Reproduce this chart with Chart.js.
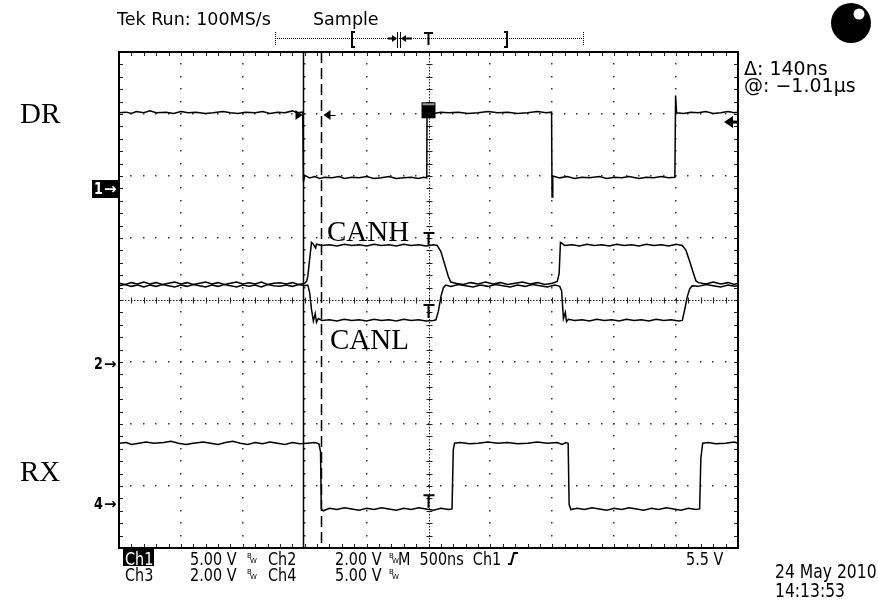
<!DOCTYPE html>
<html>
<head>
<meta charset="utf-8">
<script src="https://cdn.jsdelivr.net/npm/chart.js@4.4.1/dist/chart.umd.min.js"></script>
<style>
html, body { margin: 0; padding: 0; background: #fff; }
#wrap { width: 878px; height: 601px; position: relative; }
</style>
</head>
<body>
<div id="wrap"><canvas id="scope" width="878" height="601"></canvas></div>
<script>
// Time axis is in ns (500 ns/div, 10 div), level axis in screen divisions (8 div)
const timeMin = -2500, timeMax = 2500, timePerDiv = 500;
const levelMin = -4, levelMax = 4;

// Ch1 - DR (driver input)
const drTime = [-2500,-2440,-2400,-2360,-2300,-2250,-2200,-2120,-2060,-2000,-1940,-1880,-1800,-1740,-1660,-1600,-1540,-1480,-1400,-1340,-1280,-1220,-1160,-1100,-1060,-1016,
  -1010,-1000,-960,-920,-880,-840,-780,-720,-680,-620,-560,-500,-440,-380,-320,-260,-200,-140,-80,-40,-14,
  -12,40,100,160,240,320,400,480,560,640,720,800,880,950,994,
  998,1004,1060,1120,1180,1240,1300,1380,1440,1500,1560,1620,1700,1760,1820,1880,1940,1990,
  1996,2004,2060,2120,2180,2240,2300,2360,2420,2470,2500];
const drLevel = [3.02,3.03,3.01,3.04,3.02,3.05,3.02,3.03,3.01,3.04,3.02,3.03,3.01,3.02,3.04,3.02,3.01,3.03,3.02,3.04,3.01,3.03,3.02,3.05,3.02,3.03,
  1.90,2.01,1.97,1.99,1.96,1.98,1.97,1.99,1.96,1.98,1.97,1.99,1.96,1.97,1.99,1.96,1.97,1.98,1.96,1.98,1.97,
  3.02,3.01,3.03,3.02,3.03,3.01,3.02,3.04,3.02,3.03,3.01,3.02,3.04,3.02,3.03,
  1.66,2.00,1.97,1.99,1.96,1.98,1.97,1.99,1.96,1.98,1.97,1.99,1.96,1.98,1.97,1.99,1.97,1.98,
  3.30,3.02,3.01,3.03,3.02,3.04,3.01,3.02,3.04,3.02,3.03];

// Ch2 - CANH
const canhTime = [-2500,-2450,-2400,-2350,-2300,-2250,-2200,-2150,-2100,-2050,-2000,-1950,-1900,-1850,-1800,-1750,-1700,-1650,-1600,-1550,-1500,-1450,-1400,-1350,-1300,-1250,-1200,-1150,-1100,-1050,-1000,
  -985,-975,-960,-945,-930,-912,-905,-860,-800,-740,-680,-620,-560,-500,-440,-380,-320,-260,-200,-140,-80,-20,40,70,
  100,130,160,180,220,280,340,400,460,520,580,640,700,760,820,880,940,1000,1040,
  1055,1066,1080,1100,1160,1220,1280,1340,1400,1460,1520,1580,1640,1700,1760,1820,1880,1940,2000,2050,
  2080,2110,2140,2160,2180,2240,2300,2360,2420,2470,2500];
const canhLevel = [0.27,0.25,0.28,0.26,0.29,0.26,0.28,0.25,0.27,0.29,0.26,0.28,0.25,0.27,0.29,0.26,0.28,0.25,0.27,0.29,0.26,0.28,0.26,0.29,0.25,0.27,0.28,0.26,0.28,0.25,0.27,
  0.30,0.38,0.66,0.93,0.90,0.84,0.90,0.88,0.89,0.87,0.90,0.88,0.89,0.87,0.90,0.88,0.89,0.87,0.90,0.88,0.89,0.87,0.89,0.88,
  0.78,0.58,0.38,0.29,0.27,0.25,0.28,0.26,0.29,0.26,0.28,0.25,0.27,0.29,0.26,0.28,0.25,0.27,0.30,
  0.42,0.93,0.91,0.88,0.89,0.87,0.90,0.88,0.89,0.87,0.90,0.88,0.89,0.87,0.90,0.88,0.89,0.87,0.90,0.88,
  0.80,0.62,0.43,0.31,0.28,0.26,0.29,0.26,0.28,0.25,0.27];

// Ch3 - CANL
const canlTime = [-2500,-2450,-2400,-2350,-2300,-2250,-2200,-2150,-2100,-2050,-2000,-1950,-1900,-1850,-1800,-1750,-1700,-1650,-1600,-1550,-1500,-1450,-1400,-1350,-1300,-1250,-1200,-1150,-1100,-1050,-1000,
  -975,-960,-945,-930,-915,-905,-890,-860,-800,-740,-680,-620,-560,-500,-440,-380,-320,-260,-200,-140,-80,-20,40,60,
  80,100,120,140,180,240,300,360,420,480,540,600,660,720,780,840,900,960,1020,1060,
  1075,1090,1105,1115,1130,1180,1240,1300,1360,1420,1480,1540,1600,1660,1720,1780,1840,1900,1960,2020,2050,
  2070,2090,2110,2130,2180,2240,2300,2360,2420,2470,2500];
const canlLevel = [0.23,0.25,0.22,0.24,0.21,0.24,0.22,0.25,0.23,0.21,0.24,0.22,0.25,0.23,0.21,0.24,0.22,0.25,0.23,0.21,0.24,0.22,0.24,0.21,0.25,0.23,0.22,0.24,0.22,0.25,0.23,
  0.24,0.12,-0.15,-0.34,-0.22,-0.36,-0.30,-0.33,-0.32,-0.34,-0.31,-0.33,-0.32,-0.34,-0.31,-0.33,-0.32,-0.34,-0.31,-0.33,-0.32,-0.34,-0.33,-0.32,
  -0.18,0.05,0.20,0.24,0.22,0.25,0.23,0.21,0.24,0.22,0.25,0.23,0.21,0.24,0.22,0.25,0.23,0.21,0.24,0.22,
  0.15,-0.30,-0.20,-0.35,-0.31,-0.33,-0.32,-0.34,-0.31,-0.33,-0.32,-0.34,-0.31,-0.33,-0.32,-0.34,-0.31,-0.33,-0.32,-0.34,-0.33,
  -0.15,0.05,0.18,0.23,0.22,0.25,0.23,0.21,0.24,0.22,0.23];

// Ch4 - RX (receiver output)
const rxTime = [-2500,-2440,-2400,-2340,-2280,-2220,-2140,-2080,-2020,-1960,-1900,-1820,-1760,-1700,-1640,-1580,-1520,-1460,-1400,-1340,-1280,-1220,-1160,-1100,-1040,-980,-920,-885,
  -872,-866,-850,-800,-740,-680,-620,-560,-500,-440,-380,-320,-260,-200,-140,-80,-20,40,100,160,190,
  200,210,260,330,400,480,560,640,720,800,880,960,1040,1080,1110,1128,
  1136,1150,1200,1260,1320,1380,1440,1500,1560,1620,1680,1740,1800,1860,1920,1980,2040,2100,2160,2190,
  2200,2215,2260,2320,2400,2470,2500];
const rxLevel = [-2.31,-2.30,-2.33,-2.31,-2.29,-2.31,-2.30,-2.28,-2.31,-2.33,-2.31,-2.29,-2.31,-2.33,-2.30,-2.28,-2.31,-2.33,-2.30,-2.32,-2.29,-2.31,-2.33,-2.30,-2.32,-2.31,-2.30,-2.32,
  -2.45,-3.37,-3.40,-3.36,-3.38,-3.35,-3.37,-3.39,-3.36,-3.38,-3.35,-3.37,-3.39,-3.36,-3.38,-3.35,-3.37,-3.39,-3.36,-3.38,-3.37,
  -2.42,-2.31,-2.30,-2.32,-2.31,-2.29,-2.31,-2.30,-2.32,-2.31,-2.29,-2.31,-2.30,-2.33,-2.30,-2.31,
  -3.30,-3.38,-3.36,-3.38,-3.35,-3.37,-3.39,-3.36,-3.38,-3.35,-3.37,-3.39,-3.36,-3.38,-3.35,-3.37,-3.39,-3.36,-3.38,-3.37,
  -2.55,-2.31,-2.30,-2.32,-2.31,-2.29,-2.31];

// Cursors, channel ground markers and trigger marks (ns / divisions)
const cursorA = -1010, cursorB = -870;
const chMarkers = [['1', 1.79, true], ['2', -1.03, false], ['4', -3.30, false]];
const triggerLevel = 2.87;
const triggerTime = 0, triggerSquareLevel = 3.06;
const tMarks = [[1.08, 0.89], [-0.08, -0.29], [-3.15, -3.35]];

const pairs = (t, v) => t.map((x, i) => ({x: x, y: v[i]}));

const narrowText = (ctx, txt, x, y, sx) => {
    /*
        Draws horizontally squeezed text, the scope readout font is condensed
    */
    ctx.save();
    ctx.translate(x, y);
    ctx.scale(sx, 1);
    ctx.fillText(txt, 0, 0);
    ctx.restore();
}

const scopeGrid = {
    id: 'scopeGrid',
    beforeDatasetsDraw(chart) {
        /*
            Draws the dotted graticule, the center cross and the border ticks
        */
        const {ctx, chartArea: a, scales: {x, y}} = chart;
        ctx.save();
        ctx.fillStyle = '#333';
        const nDivX = (timeMax - timeMin) / timePerDiv;
        const nDivY = levelMax - levelMin;
        //dots along the vertical grid lines
        for (let i = 1; i < nDivX; i++) {
            if (i === nDivX / 2) continue;
            const px = Math.round(x.getPixelForValue(timeMin + i * timePerDiv));
            for (let j = 0; j <= nDivY * 5; j++) {
                const py = Math.round(y.getPixelForValue(levelMin + j / 5));
                ctx.fillRect(px - 1, py - 1, 1.5, 1.5);
            }
        }
        //dots along the horizontal grid lines
        for (let j = 1; j < nDivY; j++) {
            if (j === nDivY / 2) continue;
            const py = Math.round(y.getPixelForValue(levelMin + j));
            for (let i = 0; i <= nDivX * 5; i++) {
                const px = Math.round(x.getPixelForValue(timeMin + i * timePerDiv / 5));
                ctx.fillRect(px - 1, py - 1, 1.5, 1.5);
            }
        }
        //center cross
        const cx = Math.round(x.getPixelForValue(0)) + 0.5;
        const cy = Math.round(y.getPixelForValue(0)) + 0.5;
        ctx.strokeStyle = '#222';
        ctx.lineWidth = 1;
        ctx.setLineDash([1.5, 1.5]);
        ctx.beginPath();
        ctx.moveTo(cx, a.top); ctx.lineTo(cx, a.bottom);
        ctx.moveTo(a.left, cy); ctx.lineTo(a.right, cy);
        ctx.stroke();
        ctx.setLineDash([]);
        ctx.beginPath();
        for (let j = 0; j <= nDivY * 5; j++) {
            const py = Math.round(y.getPixelForValue(levelMin + j / 5)) + 0.5;
            ctx.moveTo(cx - 3, py); ctx.lineTo(cx + 3, py);
            //border ticks left and right
            ctx.moveTo(a.left, py); ctx.lineTo(a.left + 4, py);
            ctx.moveTo(a.right - 4, py); ctx.lineTo(a.right, py);
        }
        for (let i = 0; i <= nDivX * 5; i++) {
            const px = Math.round(x.getPixelForValue(timeMin + i * timePerDiv / 5)) + 0.5;
            ctx.moveTo(px, cy - 3); ctx.lineTo(px, cy + 3);
            //border ticks top and bottom
            ctx.moveTo(px, a.top); ctx.lineTo(px, a.top + 4);
            ctx.moveTo(px, a.bottom - 4); ctx.lineTo(px, a.bottom);
        }
        ctx.stroke();
        //border
        ctx.lineWidth = 2;
        ctx.strokeStyle = '#000';
        ctx.strokeRect(a.left, a.top, a.right - a.left, a.bottom - a.top);
        ctx.restore();
    },
    afterDatasetsDraw(chart) {
        /*
            Cursors, trigger marks and channel markers on top of the traces
        */
        const {ctx, chartArea: a, scales: {x, y}} = chart;
        ctx.save();
        ctx.strokeStyle = '#000';
        ctx.fillStyle = '#000';
        //solid and dashed time cursors
        const xa = Math.round(x.getPixelForValue(cursorA)) + 0.5;
        const xb = Math.round(x.getPixelForValue(cursorB)) + 0.5;
        ctx.lineWidth = 1.5;
        ctx.beginPath(); ctx.moveTo(xa, a.top); ctx.lineTo(xa, a.bottom); ctx.stroke();
        ctx.setLineDash([11, 5]);
        ctx.beginPath(); ctx.moveTo(xb, a.top); ctx.lineTo(xb, a.bottom); ctx.stroke();
        ctx.setLineDash([]);
        //cursor arrows on the DR trace
        const ya = Math.round(y.getPixelForValue(2.98));
        ctx.beginPath(); ctx.moveTo(xa - 1, ya); ctx.lineTo(xa - 8, ya - 5); ctx.lineTo(xa - 8, ya + 5); ctx.fill();
        ctx.beginPath(); ctx.moveTo(xb + 2, ya); ctx.lineTo(xb + 9, ya - 5); ctx.lineTo(xb + 9, ya + 5); ctx.fill();
        ctx.lineWidth = 1;
        ctx.beginPath(); ctx.moveTo(xb + 8, ya + 0.5); ctx.lineTo(xb + 14, ya + 0.5); ctx.stroke();
        //trigger square
        const tx = x.getPixelForValue(triggerTime);
        const ty = y.getPixelForValue(triggerSquareLevel);
        ctx.fillRect(tx - 7, ty - 8, 14, 16);
        ctx.fillStyle = '#999';
        ctx.fillRect(tx - 6, ty - 7, 12, 2);
        ctx.fillStyle = '#000';
        //T marks on the center line
        ctx.lineWidth = 2;
        tMarks.forEach(([top, bot]) => {
            const y0 = y.getPixelForValue(top), y1 = y.getPixelForValue(bot);
            ctx.beginPath();
            ctx.moveTo(tx - 5, y0); ctx.lineTo(tx + 6, y0);
            ctx.moveTo(tx, y0); ctx.lineTo(tx, y1);
            ctx.stroke();
        });
        //trigger level arrow on the right border
        const tly = y.getPixelForValue(triggerLevel);
        ctx.beginPath(); ctx.moveTo(a.right - 14, tly); ctx.lineTo(a.right - 5, tly - 6); ctx.lineTo(a.right - 5, tly + 6); ctx.fill();
        ctx.fillRect(a.right - 6, tly - 1.5, 6, 3);
        //channel ground markers on the left
        ctx.font = 'bold 15px "DejaVu Sans", sans-serif';
        ctx.textBaseline = 'middle';
        chMarkers.forEach(([name, lvl, boxed]) => {
            const py = y.getPixelForValue(lvl);
            if (boxed) {
                ctx.fillStyle = '#000';
                ctx.fillRect(a.left - 27, py - 9, 26, 18);
                ctx.fillStyle = '#fff';
            } else {
                ctx.fillStyle = '#000';
            }
            ctx.textAlign = 'left';
            narrowText(ctx, name, a.left - 25, py + 1, 0.85);
            ctx.fillText('\u2192', a.left - 15, py + 1);
        });
        ctx.restore();
    },
    afterDraw(chart) {
        /*
            Scope readouts and the hand-written signal labels
        */
        const ctx = chart.ctx;
        ctx.save();
        ctx.fillStyle = '#000';
        ctx.strokeStyle = '#000';
        ctx.textAlign = 'left';
        ctx.textBaseline = 'alphabetic';
        ctx.font = '17.5px "DejaVu Sans", sans-serif';
        ctx.fillText('Tek Run: 100MS/s', 117, 25);
        ctx.fillText('Sample', 313, 25);
        ctx.font = '19px "DejaVu Sans", sans-serif';
        ctx.fillText('\u0394: 140ns', 744, 75);
        ctx.fillText('@: \u22121.01\u00b5s', 744, 92);
        //record bar
        ctx.lineWidth = 1;
        ctx.setLineDash([1, 1]);
        ctx.beginPath();
        ctx.moveTo(275, 38.5); ctx.lineTo(584, 38.5);
        ctx.moveTo(275.5, 32); ctx.lineTo(275.5, 46);
        ctx.moveTo(583.5, 32); ctx.lineTo(583.5, 46);
        ctx.stroke();
        ctx.setLineDash([]);
        ctx.lineWidth = 2;
        ctx.beginPath();
        ctx.moveTo(355, 32); ctx.lineTo(352, 32); ctx.lineTo(352, 47); ctx.lineTo(355, 47);
        ctx.moveTo(504, 32); ctx.lineTo(507, 32); ctx.lineTo(507, 47); ctx.lineTo(504, 47);
        ctx.moveTo(424, 33); ctx.lineTo(433, 33); ctx.moveTo(428.5, 33); ctx.lineTo(428.5, 45);
        ctx.moveTo(388, 38.5); ctx.lineTo(396, 38.5); ctx.moveTo(404, 38.5); ctx.lineTo(412, 38.5);
        ctx.stroke();
        ctx.lineWidth = 1;
        ctx.beginPath();
        ctx.moveTo(397.5, 32); ctx.lineTo(397.5, 48); ctx.moveTo(400.5, 32); ctx.lineTo(400.5, 48);
        ctx.stroke();
        ctx.beginPath(); ctx.moveTo(397, 38.5); ctx.lineTo(392, 35); ctx.lineTo(392, 42); ctx.fill();
        ctx.beginPath(); ctx.moveTo(401, 38.5); ctx.lineTo(406, 35); ctx.lineTo(406, 42); ctx.fill();
        //status lamp
        ctx.beginPath(); ctx.arc(851, 23, 20, 0, Math.PI * 2); ctx.fill();
        ctx.fillStyle = '#fff';
        ctx.beginPath(); ctx.arc(859, 14, 5.5, 0, Math.PI * 2); ctx.fill();
        ctx.fillStyle = '#000';
        //bottom readout
        ctx.font = '18px "DejaVu Sans", sans-serif';
        const sq = 0.8;
        ctx.fillRect(123, 549, 31, 17);
        ctx.fillStyle = '#fff';
        narrowText(ctx, 'Ch1', 125, 565, sq);
        ctx.fillStyle = '#000';
        narrowText(ctx, '5.00 V', 190, 565, sq);
        narrowText(ctx, 'Ch2', 268, 565, sq);
        narrowText(ctx, '2.00 V', 335, 565, sq);
        narrowText(ctx, 'M  500ns  Ch1', 398, 565, sq);
        narrowText(ctx, '5.5 V', 686, 565, sq);
        narrowText(ctx, 'Ch3', 125, 581, sq);
        narrowText(ctx, '2.00 V', 190, 581, sq);
        narrowText(ctx, 'Ch4', 268, 581, sq);
        narrowText(ctx, '5.00 V', 335, 581, sq);
        ctx.font = '7px "DejaVu Sans", sans-serif';
        [[247, 560], [389, 560], [247, 576], [389, 576]].forEach(([bx, by]) => {
            ctx.fillText('B', bx, by - 2);
            ctx.fillText('W', bx + 3, by + 3);
        });
        //trigger slope symbol
        ctx.lineWidth = 2;
        ctx.beginPath();
        ctx.moveTo(508, 564); ctx.lineTo(511, 564); ctx.lineTo(514, 553); ctx.lineTo(518, 553);
        ctx.stroke();
        ctx.font = '19px "DejaVu Sans", sans-serif';
        narrowText(ctx, '24 May 2010', 775, 578, 0.82);
        narrowText(ctx, '14:13:53', 775, 597, 0.82);
        //signal labels
        ctx.font = '29px "Liberation Serif", "DejaVu Serif", serif';
        ctx.fillText('DR', 20, 123);
        ctx.fillText('RX', 20, 481);
        ctx.fillText('CANH', 327, 241);
        ctx.fillText('CANL', 330, 349);
        ctx.restore();
    }
};

const traceStyle = {borderColor: '#000', borderWidth: 1.5, pointRadius: 0, tension: 0, fill: false};

new Chart(document.getElementById('scope'), {
    type: 'line',
    data: {
        datasets: [
            {label: 'DR', data: pairs(drTime, drLevel), ...traceStyle},
            {label: 'CANH', data: pairs(canhTime, canhLevel), ...traceStyle},
            {label: 'CANL', data: pairs(canlTime, canlLevel), ...traceStyle},
            {label: 'RX', data: pairs(rxTime, rxLevel), ...traceStyle}
        ]
    },
    options: {
        responsive: false,
        animation: false,
        devicePixelRatio: 1,
        layout: {padding: {left: 119, top: 52, right: 140, bottom: 53}},
        plugins: {legend: {display: false}, tooltip: {enabled: false}},
        scales: {
            x: {type: 'linear', min: timeMin, max: timeMax, display: false},
            y: {type: 'linear', min: levelMin, max: levelMax, display: false}
        }
    },
    plugins: [scopeGrid]
});
</script>
</body>
</html>
